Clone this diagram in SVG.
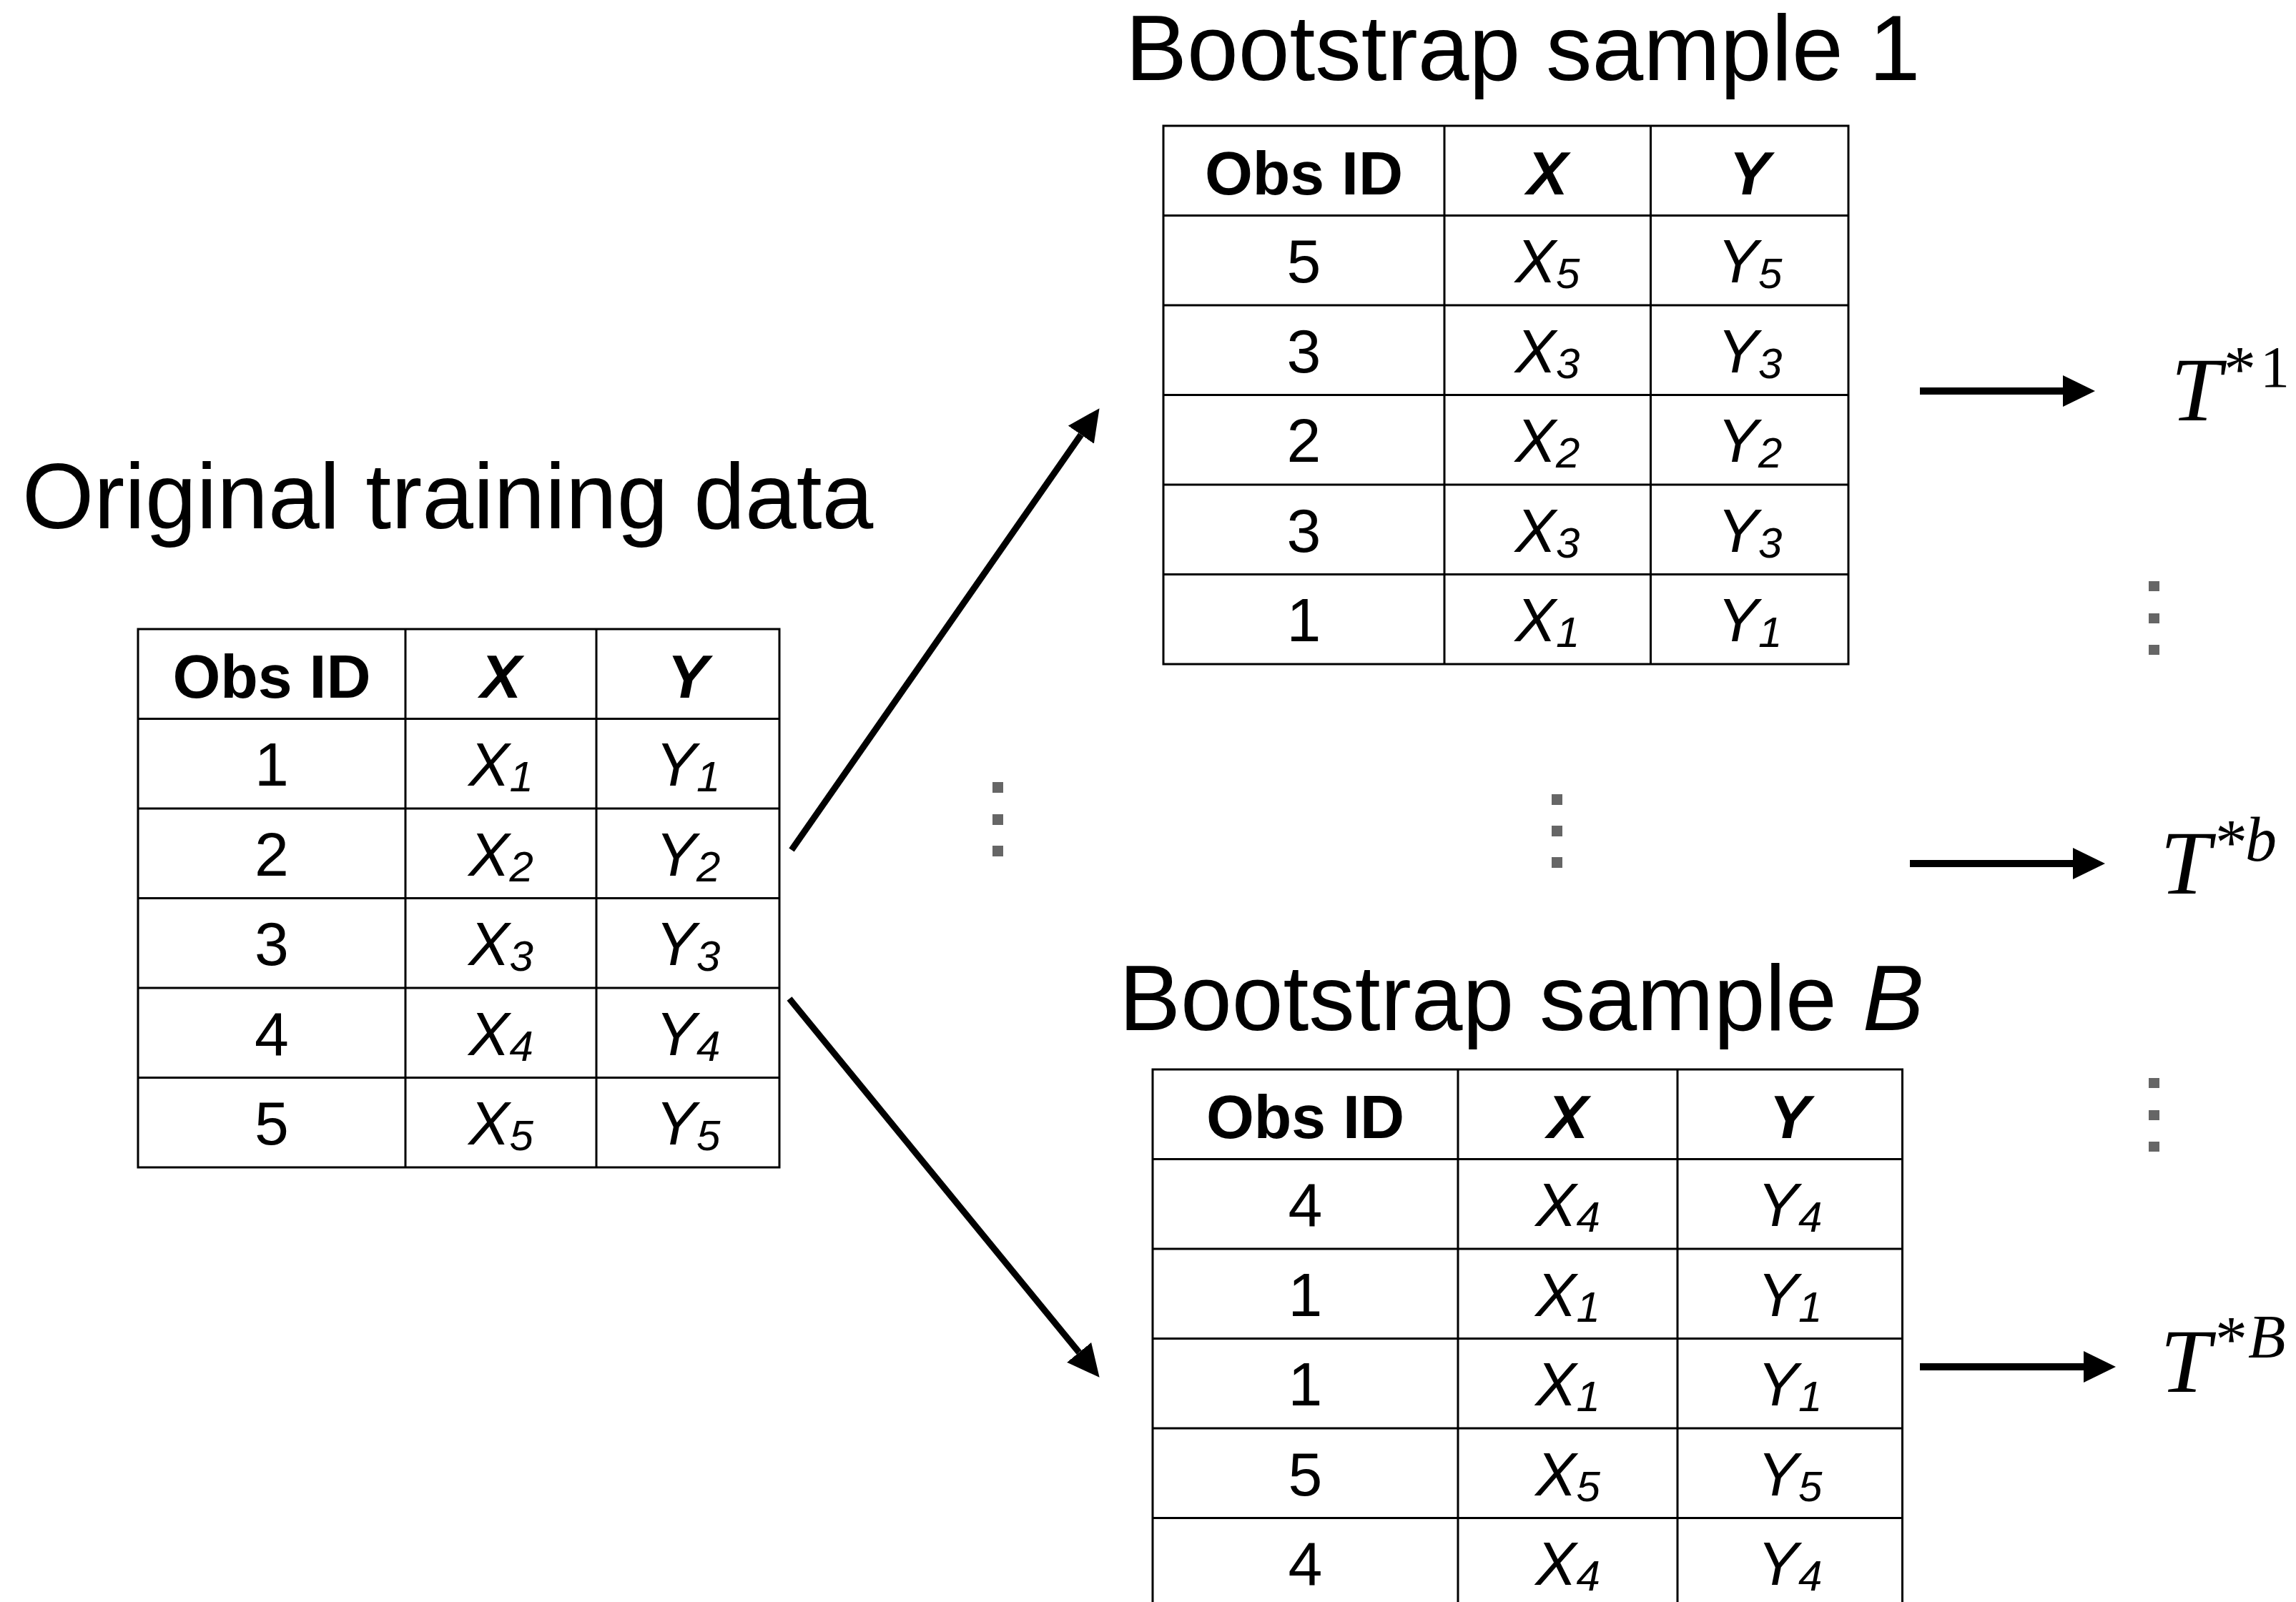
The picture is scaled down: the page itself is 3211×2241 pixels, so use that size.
<svg xmlns="http://www.w3.org/2000/svg" width="3211" height="2241" viewBox="0 0 3211 2241">
<defs>
<style>
.grid{fill:none;stroke:#000;stroke-width:3}
.title{font-family:"Liberation Sans",Arial,Helvetica,sans-serif;font-size:129px;fill:#000}
.hd{font-family:"Liberation Sans",Arial,Helvetica,sans-serif;font-size:86px;font-weight:bold;fill:#000;text-anchor:middle}
.hdi{font-style:italic}
.cell{font-family:"Liberation Sans",Arial,Helvetica,sans-serif;font-size:86px;fill:#000;text-anchor:middle}
.var{font-style:italic}
.sub{font-size:60px}
.conn{stroke:#000;stroke-width:9;fill:none}
.hconn{stroke:#000;stroke-width:10;fill:none}
.dot{fill:#666}
.tm{font-family:"Liberation Serif","Times New Roman",serif;fill:#000}
</style>
<marker id="ah" markerUnits="userSpaceOnUse" viewBox="0 0 45 44" refX="0" refY="22" markerWidth="45" markerHeight="44" orient="auto">
<path d="M0,0 L45,22 L0,44 Z" fill="#000"/>
</marker>
</defs>
<rect width="3211" height="2241" fill="#fff"/>

<g id="title-original"><text class="title" x="31" y="739">Original training data</text></g>
<g id="title-boot1"><text class="title" x="1574" y="112">Bootstrap sample 1</text></g>
<g id="title-bootB"><text class="title" x="1565" y="1441">Bootstrap sample <tspan font-style="italic">B</tspan></text></g>

<g id="table-original">
<rect class="grid" x="193" y="880" width="897" height="753"/>
<path class="grid" d="M567,880V1633M834,880V1633M193,1005.5H1090M193,1131H1090M193,1256.5H1090M193,1382H1090M193,1507.5H1090"/>
<text class="hd" x="380" y="976">Obs ID</text>
<text class="hd hdi" x="700.5" y="976">X</text>
<text class="hd hdi" x="962" y="976">Y</text>
<text class="cell" x="380" y="1099">1</text>
<text class="cell" x="700.5" y="1099"><tspan class="var">X</tspan><tspan class="var sub" dy="8">1</tspan></text>
<text class="cell" x="962" y="1099"><tspan class="var">Y</tspan><tspan class="var sub" dy="8">1</tspan></text>
<text class="cell" x="380" y="1225">2</text>
<text class="cell" x="700.5" y="1225"><tspan class="var">X</tspan><tspan class="var sub" dy="8">2</tspan></text>
<text class="cell" x="962" y="1225"><tspan class="var">Y</tspan><tspan class="var sub" dy="8">2</tspan></text>
<text class="cell" x="380" y="1350">3</text>
<text class="cell" x="700.5" y="1350"><tspan class="var">X</tspan><tspan class="var sub" dy="8">3</tspan></text>
<text class="cell" x="962" y="1350"><tspan class="var">Y</tspan><tspan class="var sub" dy="8">3</tspan></text>
<text class="cell" x="380" y="1476">4</text>
<text class="cell" x="700.5" y="1476"><tspan class="var">X</tspan><tspan class="var sub" dy="8">4</tspan></text>
<text class="cell" x="962" y="1476"><tspan class="var">Y</tspan><tspan class="var sub" dy="8">4</tspan></text>
<text class="cell" x="380" y="1601">5</text>
<text class="cell" x="700.5" y="1601"><tspan class="var">X</tspan><tspan class="var sub" dy="8">5</tspan></text>
<text class="cell" x="962" y="1601"><tspan class="var">Y</tspan><tspan class="var sub" dy="8">5</tspan></text>
</g>

<g id="table-boot1">
<rect class="grid" x="1627" y="176" width="958" height="753"/>
<path class="grid" d="M2020,176V929M2308.5,176V929M1627,301.5H2585M1627,427H2585M1627,552.5H2585M1627,678H2585M1627,803.5H2585"/>
<text class="hd" x="1823.5" y="272">Obs ID</text>
<text class="hd hdi" x="2164" y="272">X</text>
<text class="hd hdi" x="2447" y="272">Y</text>
<text class="cell" x="1823.5" y="395">5</text>
<text class="cell" x="2164" y="395"><tspan class="var">X</tspan><tspan class="var sub" dy="8">5</tspan></text>
<text class="cell" x="2447" y="395"><tspan class="var">Y</tspan><tspan class="var sub" dy="8">5</tspan></text>
<text class="cell" x="1823.5" y="521">3</text>
<text class="cell" x="2164" y="521"><tspan class="var">X</tspan><tspan class="var sub" dy="8">3</tspan></text>
<text class="cell" x="2447" y="521"><tspan class="var">Y</tspan><tspan class="var sub" dy="8">3</tspan></text>
<text class="cell" x="1823.5" y="646">2</text>
<text class="cell" x="2164" y="646"><tspan class="var">X</tspan><tspan class="var sub" dy="8">2</tspan></text>
<text class="cell" x="2447" y="646"><tspan class="var">Y</tspan><tspan class="var sub" dy="8">2</tspan></text>
<text class="cell" x="1823.5" y="772">3</text>
<text class="cell" x="2164" y="772"><tspan class="var">X</tspan><tspan class="var sub" dy="8">3</tspan></text>
<text class="cell" x="2447" y="772"><tspan class="var">Y</tspan><tspan class="var sub" dy="8">3</tspan></text>
<text class="cell" x="1823.5" y="897">1</text>
<text class="cell" x="2164" y="897"><tspan class="var">X</tspan><tspan class="var sub" dy="8">1</tspan></text>
<text class="cell" x="2447" y="897"><tspan class="var">Y</tspan><tspan class="var sub" dy="8">1</tspan></text>
</g>

<g id="table-bootB">
<path class="grid" d="M1612,2260V1496H2660.5V2260M2039,1496V2260M2346,1496V2260M1612,1621.5H2660.5M1612,1747H2660.5M1612,1872.5H2660.5M1612,1998H2660.5M1612,2123.5H2660.5"/>
<text class="hd" x="1825.5" y="1592">Obs ID</text>
<text class="hd hdi" x="2192.5" y="1592">X</text>
<text class="hd hdi" x="2503" y="1592">Y</text>
<text class="cell" x="1825.5" y="1715">4</text>
<text class="cell" x="2192.5" y="1715"><tspan class="var">X</tspan><tspan class="var sub" dy="8">4</tspan></text>
<text class="cell" x="2503" y="1715"><tspan class="var">Y</tspan><tspan class="var sub" dy="8">4</tspan></text>
<text class="cell" x="1825.5" y="1841">1</text>
<text class="cell" x="2192.5" y="1841"><tspan class="var">X</tspan><tspan class="var sub" dy="8">1</tspan></text>
<text class="cell" x="2503" y="1841"><tspan class="var">Y</tspan><tspan class="var sub" dy="8">1</tspan></text>
<text class="cell" x="1825.5" y="1966">1</text>
<text class="cell" x="2192.5" y="1966"><tspan class="var">X</tspan><tspan class="var sub" dy="8">1</tspan></text>
<text class="cell" x="2503" y="1966"><tspan class="var">Y</tspan><tspan class="var sub" dy="8">1</tspan></text>
<text class="cell" x="1825.5" y="2092">5</text>
<text class="cell" x="2192.5" y="2092"><tspan class="var">X</tspan><tspan class="var sub" dy="8">5</tspan></text>
<text class="cell" x="2503" y="2092"><tspan class="var">Y</tspan><tspan class="var sub" dy="8">5</tspan></text>
<text class="cell" x="1825.5" y="2217">4</text>
<text class="cell" x="2192.5" y="2217"><tspan class="var">X</tspan><tspan class="var sub" dy="8">4</tspan></text>
<text class="cell" x="2503" y="2217"><tspan class="var">Y</tspan><tspan class="var sub" dy="8">4</tspan></text>
</g>

<g id="connectors">
<line class="conn" x1="1107" y1="1189" x2="1511.8" y2="608.1" marker-end="url(#ah)"/>
<line class="conn" x1="1104" y1="1397" x2="1509.1" y2="1891.9" marker-end="url(#ah)"/>
<line class="hconn" x1="2685" y1="547" x2="2885" y2="547" marker-end="url(#ah)"/>
<line class="hconn" x1="2671" y1="1208" x2="2899" y2="1208" marker-end="url(#ah)"/>
<line class="hconn" x1="2685" y1="1912" x2="2914" y2="1912" marker-end="url(#ah)"/>
</g>

<g id="ellipses">
<rect class="dot" x="1388" y="1094" width="15" height="15"/>
<rect class="dot" x="1388" y="1139" width="15" height="15"/>
<rect class="dot" x="1388" y="1183" width="15" height="15"/>
<rect class="dot" x="2170" y="1111" width="15" height="15"/>
<rect class="dot" x="2170" y="1155" width="15" height="15"/>
<rect class="dot" x="2170" y="1199" width="15" height="15"/>
<rect class="dot" x="3005" y="813" width="15" height="14"/>
<rect class="dot" x="3005" y="858" width="15" height="14"/>
<rect class="dot" x="3005" y="902" width="15" height="14"/>
<rect class="dot" x="3005" y="1508" width="15" height="14"/>
<rect class="dot" x="3005" y="1553" width="15" height="14"/>
<rect class="dot" x="3005" y="1597" width="15" height="14"/>
</g>

<g id="T1">
<text class="tm" x="3036" y="588" font-size="127" font-style="italic">T</text>
<text class="tm" x="3110" y="547" font-size="90">*</text>
<text class="tm" x="3161" y="541" font-size="82">1</text>
</g>
<g id="Tb">
<text class="tm" x="3021" y="1250" font-size="127" font-style="italic">T</text>
<text class="tm" x="3098" y="1209" font-size="90">*</text>
<text class="tm" x="3140" y="1204" font-size="88" font-style="italic">b</text>
</g>
<g id="TB">
<text class="tm" x="3021" y="1947" font-size="127" font-style="italic">T</text>
<text class="tm" x="3098" y="1904" font-size="90">*</text>
<text class="tm" x="3144" y="1899" font-size="86" font-style="italic">B</text>
</g>
</svg>
